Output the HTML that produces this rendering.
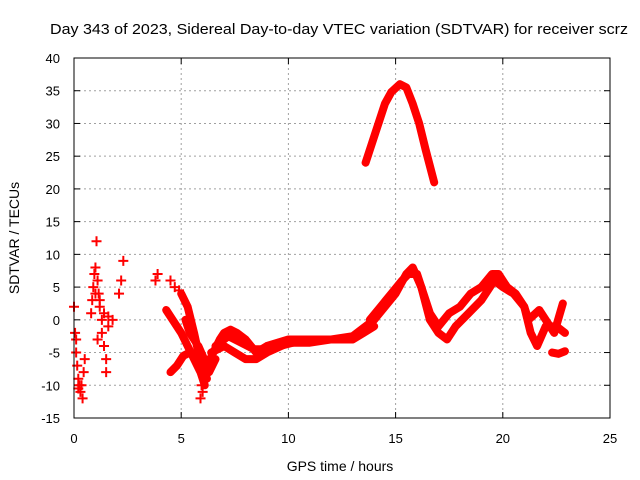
<!DOCTYPE html>
<html><head><meta charset="utf-8"><style>
body{margin:0;background:#fff}
svg{display:block;font-family:"Liberation Sans",sans-serif}
</style></head><body>
<svg id="chart" width="640" height="480" viewBox="0 0 640 480">
<rect width="640" height="480" fill="#fff"/>
<text x="339" y="34" font-size="15" text-anchor="middle" textLength="578" lengthAdjust="spacingAndGlyphs">Day 343 of 2023, Sidereal Day-to-day VTEC variation (SDTVAR) for receiver scrz</text>
<text x="340" y="471" font-size="14" text-anchor="middle">GPS time / hours</text>
<text transform="translate(19,238) rotate(-90)" font-size="14" text-anchor="middle">SDTVAR / TECUs</text>
<g id="grid"></g><g id="ticks"></g><g id="marks"></g>
<rect x="74" y="58" width="536" height="360" fill="none" stroke="#000" stroke-width="1"/>
</svg>
<script>
const xTicks=[0,5,10,15,20,25];
const yTicks=[-15,-10,-5,0,5,10,15,20,25,30,35,40];
const humpTrack=[[13.6,24],[13.9,27],[14.2,30],[14.5,33],[14.8,34.8],[15.2,36],[15.5,35.5],[15.8,33],[16.1,30],[16.4,26],[16.8,21]];
const bandA=[[5.8,-4],[6.2,-7],[6.5,-5],[6.8,-3],[7.0,-2],[7.3,-1.5],[7.6,-2],[8.0,-3],[8.5,-5],[9,-4],[9.5,-3.5],[10,-3],[11,-3],[12,-3],[13,-3],[13.5,-2],[14,-1]];
const bandB=[[6.4,-5],[7,-4],[7.5,-5],[8,-6],[8.5,-6],[9,-5],[10,-3.5],[11,-3.5],[12,-3],[13,-2.5],[14,0],[14.5,2],[15,4],[15.5,7],[15.8,8],[16.2,5],[16.6,0],[17,-2],[17.4,-3],[17.8,-1],[18.4,1],[19,3],[19.6,6],[20,5],[20.5,4],[21,2],[21.3,-2],[21.6,-4],[22,-1],[22.5,-1],[22.9,-2]];
const bandC=[[13.8,0],[14.3,2],[14.8,4],[15.3,6],[15.6,7],[16,7],[16.3,4],[16.6,1],[17,-1],[17.5,1],[18,2],[18.5,4],[19,5],[19.5,7],[19.8,7],[20.2,5],[20.6,4],[21,2],[21.2,0],[21.7,1.5],[22,0],[22.4,-2],[22.8,2.5]];
const bandD=[[22.3,-5],[22.6,-5.2],[22.9,-4.8]];
const bandE=[[6.6,-4],[7.2,-2.5],[7.8,-3.5],[8.4,-4.5],[9,-4.5],[9.6,-4],[10.2,-3.5]];
const dropA=[[4.3,1.5],[4.6,0],[5,-2],[5.3,-4],[5.6,-6],[5.9,-8],[6.1,-10]];
const dropB=[[5.0,4],[5.3,2],[5.6,-2],[5.8,-5],[6.0,-7],[6.2,-9]];
const dropC=[[4.5,-8],[4.8,-7],[5.1,-5.5],[5.4,-5]];
const dropD=[[5.2,0],[5.4,-2],[5.7,-3.5],[6.0,-6],[6.3,-8],[6.6,-6]];
const sparse=[[0,2],[0.05,-2],[0.1,-5],[0.15,-7],[0.2,-9],[0.25,-10],[0.3,-11],[0.35,-10],[0.4,-12],[0.5,-6],[0.45,-8],[0.1,-3],[0.2,-10.5],
[0.8,1],[0.85,3],[0.9,5],[0.95,7],[1.0,8],[1.05,12],[1.1,6],[1.15,4],[1.2,2],[1.3,0],[1.3,-2],[1.4,-4],[1.5,-6],[1.5,-8],[1.6,-1],[1.8,0],[1.1,-3],[1.0,4],[1.2,3],[1.4,1],[1.6,0.5],
[2.1,4],[2.2,6],[2.3,9],[3.8,6],[3.9,7],[4.5,6],[4.7,5],[4.9,4.5],[5.9,-12],[6.0,-11],[5.95,-10]];
const X=h=>74+h*536/25, Y=v=>58+(40-v)*360/55;
const ns="http://www.w3.org/2000/svg";
function mk(t,a,p){const e=document.createElementNS(ns,t);for(const k in a)e.setAttribute(k,a[k]);p.appendChild(e);return e;}
const g=document.getElementById('grid'),tk=document.getElementById('ticks'),m=document.getElementById('marks');
xTicks.forEach(t=>{
 if(t>0&&t<25){const l=mk('line',{x1:X(t),x2:X(t),y1:58,y2:418,stroke:'#a0a0a0','stroke-dasharray':'2,3'},g);
 
 }
 mk('line',{x1:X(t),x2:X(t),y1:418,y2:412,stroke:'#000'},tk);
 mk('line',{x1:X(t),x2:X(t),y1:58,y2:64,stroke:'#000'},tk);
 const s=mk('text',{x:X(t),y:443,'font-size':13,'text-anchor':'middle'},tk);s.textContent=t;
 
 
});
yTicks.forEach(t=>{
 if(t>-15&&t<40){const l=mk('line',{x1:74,x2:610,y1:Y(t),y2:Y(t),stroke:'#a0a0a0','stroke-dasharray':'2,3'},g);
 
 }
 mk('line',{x1:74,x2:80,y1:Y(t),y2:Y(t),stroke:'#000'},tk);
 mk('line',{x1:610,x2:604,y1:Y(t),y2:Y(t),stroke:'#000'},tk);
 const s=mk('text',{x:60,y:Y(t)+5,'font-size':13,'text-anchor':'end'},tk);s.textContent=t;
 
 
});
[humpTrack,bandA,bandB,bandC,bandD,bandE,dropA,dropB,dropC,dropD].forEach((tr,i)=>{
 const p=mk('polyline',{points:tr.map(d=>X(d[0])+','+Y(d[1])).join(' '),fill:'none',stroke:'#f00','stroke-width':8,'stroke-linejoin':'round','stroke-linecap':'round'},m);
 
 
});
sparse.forEach(d=>{
 const p=mk('path',{d:`M${X(d[0])-5},${Y(d[1])}h10M${X(d[0])},${Y(d[1])-5}v10`,stroke:'#f00','stroke-width':2},m);
 
 
});
</script>
</body></html>
